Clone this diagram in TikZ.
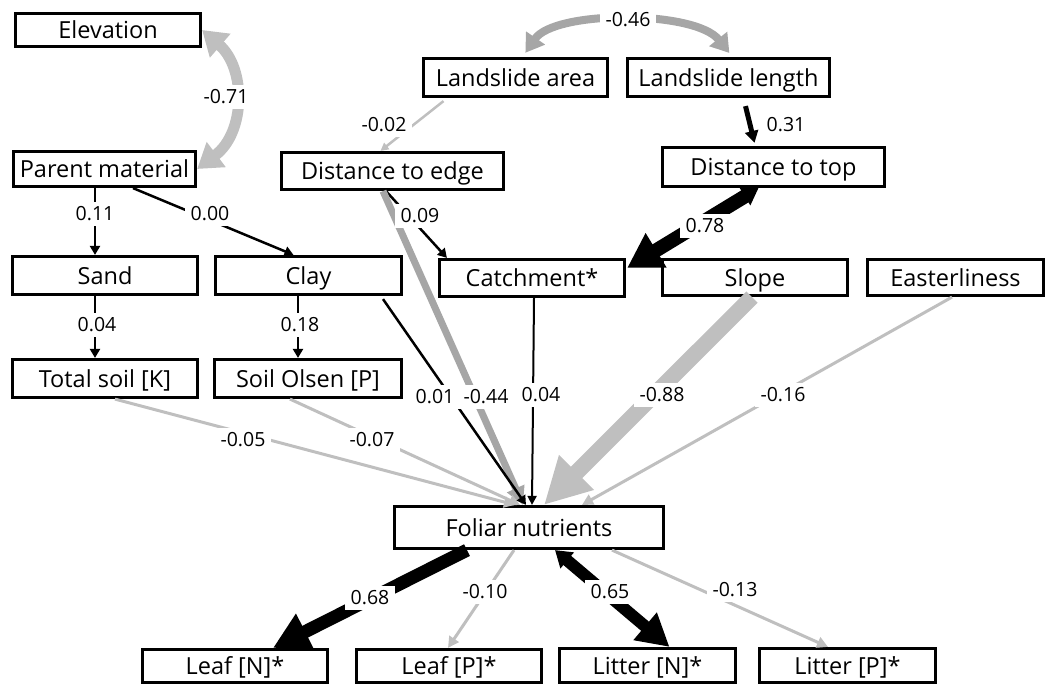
\documentclass[tikz,border=0pt]{standalone}
\usepackage{fontspec}
\setmainfont{Open Sans}
\usetikzlibrary{arrows.meta}
\definecolor{lg}{HTML}{BFBFBF}
\definecolor{mg}{HTML}{A6A6A6}
\newcommand\bxf{\fontsize{23.5}{27}\selectfont}
\newcommand\lbf{\fontsize{19.5}{22}\selectfont}
\begin{document}
\begin{tikzpicture}[x=1pt,y=-1pt,
  box/.style={draw, line width=3.2pt, inner sep=0pt, text height=20pt, text depth=3pt, font=\bxf},
  lab/.style={fill=white, inner xsep=6pt, inner ysep=5pt, font=\lbf},
  thinblack/.style={black, line width=2.5pt, -{Triangle[length=9pt,width=10pt]}},
  thingray/.style={lg, line width=3pt, -{Triangle[length=11pt,width=11pt]}}
  ]
\useasboundingbox (0,0) rectangle (1047,686);
% boxes
\node[box, minimum width=185pt, minimum height=33pt] (elev) at (108,30) {Elevation};
\node[box, minimum width=182pt, minimum height=35pt] (parent) at (104.5,169) {Parent material};
\node[box, minimum width=184pt, minimum height=38pt] (larea) at (515.5,77.5) {Landslide area};
\node[box, minimum width=202pt, minimum height=38pt] (llength) at (728.5,77.5) {Landslide length};
\node[box, minimum width=222pt, minimum height=37pt] (dedge) at (392.5,171) {Distance to edge};
\node[box, minimum width=222pt, minimum height=39pt] (dtop) at (773.5,167) {Distance to top};
\node[box, minimum width=185pt, minimum height=38pt] (sand) at (105,275.5) {Sand};
\node[box, minimum width=186pt, minimum height=38pt] (clay) at (308.5,275.5) {Clay};
\node[box, minimum width=185pt, minimum height=37pt] (catch) at (532,278) {Catchment*};
\node[box, minimum width=185pt, minimum height=36pt] (slope) at (755,277.5) {Slope};
\node[box, minimum width=176pt, minimum height=36pt] (east) at (955.5,277.5) {Easterliness};
\node[box, minimum width=185pt, minimum height=38pt] (totk) at (105,378.5) {Total soil [K]};
\node[box, minimum width=187pt, minimum height=38pt] (olsen) at (308,378.5) {Soil Olsen [P]};
\node[box, minimum width=269pt, minimum height=42pt] (foliar) at (529,527.5) {Foliar nutrients};
\node[box, minimum width=185pt, minimum height=33pt] (leafn) at (235,666) {Leaf [N]*};
\node[box, minimum width=185pt, minimum height=33pt] (leafp) at (449,666) {Leaf [P]*};
\node[box, minimum width=176pt, minimum height=34pt] (littn) at (647.5,665.5) {Litter [N]*};
\node[box, minimum width=176pt, minimum height=34pt] (littp) at (847.5,665.5) {Litter [P]*};
% black connector under the grey one
\draw[thinblack] ([xshift=-6.5pt]dedge.south) -- ([xshift=9pt]catch.north west);
% gray connectors
\draw[lg, line width=11pt, {Triangle[length=24pt,width=30pt]}-{Triangle[length=24pt,width=30pt]}]
  (elev.east) .. controls (246,68) and (246,132) .. (parent.east);
\draw[mg, line width=8pt, {Triangle[length=18pt,width=22pt]}-{Triangle[length=18pt,width=22pt]}, shorten <=5pt, shorten >=5pt]
  ([xshift=7pt]larea.north) .. controls (555,10) and (695,10) .. ([xshift=4pt]llength.north);
\draw[lg, line width=2.5pt, -{Triangle[length=8pt,width=8pt]}] ([xshift=-72pt,yshift=-3pt]larea.south) -- ([xshift=-12pt]dedge.north);
\draw[mg, line width=7pt, -{Triangle[length=18pt,width=18pt]}] ([xshift=-9.5pt]dedge.south) -- ([xshift=-6pt]foliar.north);
\draw[lg, line width=16pt, -{Triangle[length=46pt,width=46pt]}] ([xshift=-3pt]slope.south) -- ([xshift=15pt]foliar.north);
\draw[thingray] ([xshift=-3.5pt]east.south) -- ([xshift=53pt]foliar.north);
\draw[thingray] ([xshift=10pt]totk.south) -- ([xshift=-14pt]foliar.north);
\draw[thingray] ([xshift=-18pt]olsen.south) -- ([xshift=-9pt]foliar.north);
\draw[thingray] ([xshift=-15pt]foliar.south) -- ([xshift=-1pt]leafp.north);
\draw[thingray] ([xshift=83pt]foliar.south) -- ([xshift=-19.5pt]littp.north);
% black connectors
\draw[black, line width=5pt, -{Triangle[length=12pt,width=13pt]}] ([xshift=17pt,yshift=-8pt]llength.south) -- ([xshift=-19pt,yshift=3pt]dtop.north);
\draw[black, line width=14pt, {Triangle[length=16pt,width=20pt]}-{Triangle[length=34pt,width=38pt]}] ([xshift=-15pt]dtop.south) -- ([xshift=1pt,yshift=10pt]catch.east);
\draw[thinblack] ([xshift=-9.5pt]parent.south) -- ([xshift=-10pt]sand.north);
\draw[thinblack] ([xshift=28.5pt]parent.south) -- ([xshift=-15pt]clay.north);
\draw[thinblack] ([xshift=-10pt]sand.south) -- ([xshift=-10pt]totk.north);
\draw[thinblack] ([xshift=-10.5pt]clay.south) -- ([xshift=-10pt]olsen.north);
\draw[thinblack] ([xshift=74.5pt,yshift=-3pt]clay.south) -- ([xshift=-3pt]foliar.north);
\draw[black, line width=2pt, -{Triangle[length=9pt,width=9pt]}] ([xshift=2pt]catch.south) -- ([xshift=3pt]foliar.north);
\draw[black, line width=13pt, -{Triangle[length=36pt,width=38pt]}] ([xshift=-62pt]foliar.south) -- ([xshift=38pt]leafn.north);
\draw[black, line width=12pt, {Triangle[length=16pt,width=20pt]}-{Triangle[length=32pt,width=34pt]}] ([xshift=26pt]foliar.south) -- ([xshift=22pt]littn.north);
% labels
\node[lab] (l71) at (226,97) {-0.71};
\node[lab] (l46) at (628,20) {-0.46};
\node[lab] (l02) at (384,125) {-0.02};
\node[lab] (l31) at (786,125) {0.31};
\node[lab] (l78) at (705,226) {0.78};
\node[lab] (l09) at (420,216) {0.09};
\node[lab] (l11) at (95,214) {0.11};
\node[lab] (l00) at (210,214) {0.00};
\node[lab] (l04a) at (97,325) {0.04};
\node[lab] (l18) at (300,325) {0.18};
\node[lab] (l01) at (435,397) {0.01};
\node[lab] (l44) at (486,397) {-0.44};
\node[lab] (l04b) at (541,395) {0.04};
\node[lab] (l88) at (662,395) {-0.88};
\node[lab] (l16) at (783,395) {-0.16};
\node[lab] (l05) at (243,440) {-0.05};
\node[lab] (l07) at (372,440) {-0.07};
\node[lab] (l68) at (370,598) {0.68};
\node[lab] (l10) at (485,592) {-0.10};
\node[lab] (l65) at (610,592) {0.65};
\node[lab] (l13) at (735,590) {-0.13};
\end{tikzpicture}
\end{document}
